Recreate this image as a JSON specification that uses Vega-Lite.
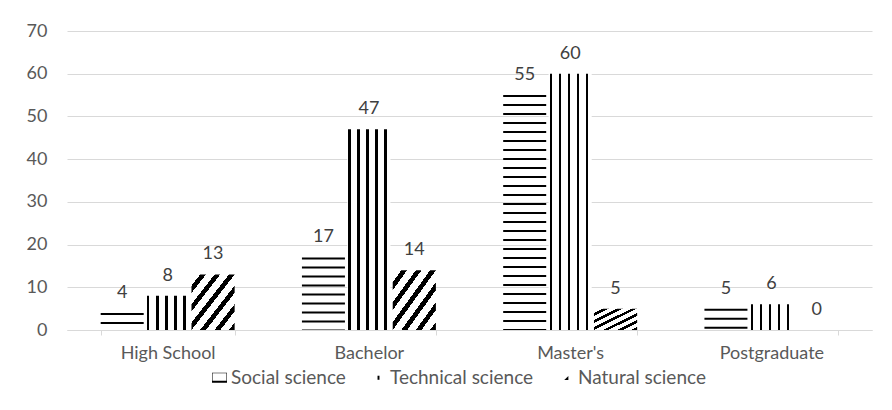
{
  "$schema": "https://vega.github.io/schema/vega-lite/v6.json",
  "width": 805,
  "height": 299,
  "autosize": "none",
  "padding": {"left": 67, "top": 31, "right": 20, "bottom": 80},
  "background": "white",
  "config": {
    "view": {"stroke": null},
    "font": "Lato",
    "axis": {"labelFont": "Lato", "labelColor": "#595959", "labelFontSize": 18},
    "legend": {"labelFont": "Lato", "labelColor": "#595959", "labelFontSize": 19}
  },
  "data": {
    "values": [
      {"level": "High School", "series": "Social science", "value": 4},
      {"level": "High School", "series": "Technical science", "value": 8},
      {"level": "High School", "series": "Natural science", "value": 13},
      {"level": "Bachelor", "series": "Social science", "value": 17},
      {"level": "Bachelor", "series": "Technical science", "value": 47},
      {"level": "Bachelor", "series": "Natural science", "value": 14},
      {"level": "Master's", "series": "Social science", "value": 55},
      {"level": "Master's", "series": "Technical science", "value": 60},
      {"level": "Master's", "series": "Natural science", "value": 5},
      {"level": "Postgraduate", "series": "Social science", "value": 5},
      {"level": "Postgraduate", "series": "Technical science", "value": 6},
      {"level": "Postgraduate", "series": "Natural science", "value": 0}
    ]
  },
  "encoding": {
    "x": {
      "field": "level", "type": "nominal",
      "sort": ["High School", "Bachelor", "Master's", "Postgraduate"],
      "scale": {"paddingInner": 0.334, "paddingOuter": 0.167},
      "axis": {
        "title": null, "labelAngle": 0, "domainColor": "#d9d9d9", "tickColor": "#d9d9d9",
        "tickBand": "extent", "tickSize": 5, "labelPadding": 9, "grid": false
      }
    },
    "xOffset": {
      "field": "series", "type": "nominal",
      "sort": ["Social science", "Technical science", "Natural science"],
      "scale": {"paddingInner": 0.05}
    },
    "y": {
      "field": "value", "type": "quantitative",
      "scale": {"domain": [0, 70], "nice": false},
      "axis": {
        "title": null, "domain": false, "ticks": false, "gridColor": "#d9d9d9",
        "values": [0, 10, 20, 30, 40, 50, 60, 70], "labelPadding": 20
      }
    }
  },
  "layer": [
    {
      "transform": [{"filter": "datum.series === 'Social science'"}],
      "mark": {"type": "rule", "strokeWidth": 43, "strokeDash": [2, 7], "strokeCap": "butt", "color": "#000000"},
      "encoding": {"y2": {"datum": 0}}
    },
    {
      "transform": [{"filter": "datum.series === 'Technical science'"}],
      "mark": {
        "type": "bar",
        "fill": {
          "gradient": "linear", "x1": 0, "y1": 0, "x2": 1, "y2": 0,
          "stops": [
            {"offset": 0, "color": "white"}, {"offset": 0.023, "color": "white"},
            {"offset": 0.023, "color": "black"}, {"offset": 0.08, "color": "black"},
            {"offset": 0.08, "color": "white"}, {"offset": 0.233, "color": "white"},
            {"offset": 0.233, "color": "black"}, {"offset": 0.29, "color": "black"},
            {"offset": 0.29, "color": "white"}, {"offset": 0.442, "color": "white"},
            {"offset": 0.442, "color": "black"}, {"offset": 0.499, "color": "black"},
            {"offset": 0.499, "color": "white"}, {"offset": 0.651, "color": "white"},
            {"offset": 0.651, "color": "black"}, {"offset": 0.708, "color": "black"},
            {"offset": 0.708, "color": "white"}, {"offset": 0.86, "color": "white"},
            {"offset": 0.86, "color": "black"}, {"offset": 0.917, "color": "black"},
            {"offset": 0.917, "color": "white"}, {"offset": 1, "color": "white"}
          ]
        }
      }
    },
    {
      "transform": [{"filter": "datum.series === 'Natural science'"}],
      "mark": {
        "type": "bar",
        "fill": {
          "gradient": "linear", "x1": 0, "y1": 0, "x2": 1, "y2": 1,
          "stops": [
            {"offset": 0, "color": "white"}, {"offset": 0.1, "color": "white"},
            {"offset": 0.1, "color": "black"}, {"offset": 0.167, "color": "black"},
            {"offset": 0.167, "color": "white"}, {"offset": 0.267, "color": "white"},
            {"offset": 0.267, "color": "black"}, {"offset": 0.333, "color": "black"},
            {"offset": 0.333, "color": "white"}, {"offset": 0.433, "color": "white"},
            {"offset": 0.433, "color": "black"}, {"offset": 0.5, "color": "black"},
            {"offset": 0.5, "color": "white"}, {"offset": 0.6, "color": "white"},
            {"offset": 0.6, "color": "black"}, {"offset": 0.667, "color": "black"},
            {"offset": 0.667, "color": "white"}, {"offset": 0.767, "color": "white"},
            {"offset": 0.767, "color": "black"}, {"offset": 0.833, "color": "black"},
            {"offset": 0.833, "color": "white"}, {"offset": 0.933, "color": "white"},
            {"offset": 0.933, "color": "black"}, {"offset": 1, "color": "black"}
          ]
        }
      }
    },
    {
      "mark": {"type": "text", "baseline": "bottom", "dy": -11, "fontSize": 18, "color": "#404040", "font": "Lato"},
      "encoding": {"text": {"field": "value", "type": "quantitative"}}
    },
    {
      "mark": {"type": "point", "filled": true, "opacity": 0, "color": "black"},
      "encoding": {
        "shape": {
          "field": "series", "type": "nominal",
          "sort": ["Social science", "Technical science", "Natural science"],
          "scale": {"range": [
            "M-1,-0.67H1V-0.6H-1Z M-1,-0.67H-0.93V0.67H-1Z M0.93,-0.67H1V0.67H0.93Z M-1,0.4H1V0.67H-1Z",
            "M-0.13,-0.27H0.13V0.27H-0.13Z",
            "M0.25,-0.25L0.25,0.3L-0.3,0.3Z"
          ]},
          "legend": {
            "title": null, "orient": "none", "direction": "horizontal",
            "legendX": 143, "legendY": 337,
            "symbolSize": 225, "symbolOpacity": 1, "symbolFillColor": "black",
            "symbolStrokeWidth": 0, "columnPadding": 23, "labelOffset": 2
          }
        }
      }
    }
  ]
}
